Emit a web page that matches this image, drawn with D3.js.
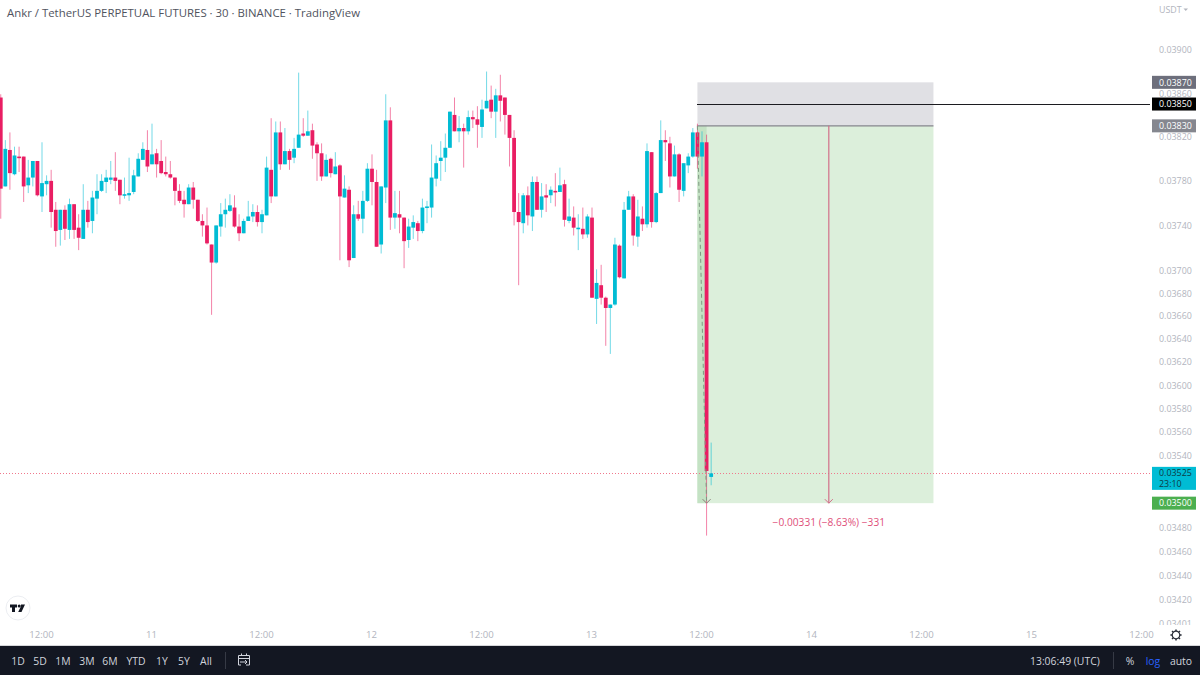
<!DOCTYPE html>
<html>
<head>
<meta charset="utf-8">
<script src="https://cdn.jsdelivr.net/npm/d3@7/dist/d3.min.js"></script>
<style>
html,body{margin:0;padding:0;background:#fff;overflow:hidden}
svg{display:block;font-family:"Open Sans",sans-serif}
</style>
</head>
<body>
<svg id="chart" width="1200" height="675"></svg>
<script>
// ANKRUSDT perpetual, 30 minute candles, prices in units of 0.00001 USDT
const opens = [3856,3775,3808,3786,3802,3802,3776,3783,3798,3766,3777,3780,3754,3736,3754,3736,3759,3738,3728,3754,
3744,3764,3771,3779,3781,3783,3781,3767,3767,3770,3784,3799,3808,3795,3805,3798,3788,3786,3783,3771,
3763,3759,3774,3763,3744,3740,3723,3707,3739,3750,3753,3756,3739,3733,3744,3748,3752,3743,3749,3790,
3766,3824,3795,3807,3801,3810,3823,3821,3826,3813,3805,3784,3800,3786,3794,3765,3772,3711,3750,3746,
3762,3791,3779,3723,3774,3835,3747,3750,3747,3727,3738,3742,3735,3756,3756,3782,3798,3801,3810,3840,
3825,3828,3825,3838,3836,3829,3846,3854,3843,3858,3856,3840,3819,3752,3742,3767,3748,3779,3754,3767,
3767,3771,3770,3777,3744,3747,3737,3737,3732,3747,3675,3687,3676,3667,3670,3722,3693,3754,3766,3730,
3746,3741,3806,3743,3769,3817,3814,3784,3804,3771,3794,3802,3824,3802,3815,3522];
const highs = [3859,3817,3824,3811,3811,3802,3799,3798,3798,3815,3785,3790,3761,3754,3758,3764,3759,3750,3777,3762,
3771,3786,3786,3790,3798,3806,3781,3783,3801,3790,3805,3815,3826,3832,3809,3817,3802,3798,3783,3777,
3771,3777,3779,3763,3750,3756,3723,3740,3760,3764,3768,3767,3750,3746,3762,3759,3758,3754,3802,3837,
3834,3834,3828,3809,3819,3879,3837,3844,3832,3815,3814,3804,3801,3806,3795,3785,3775,3758,3762,3771,
3796,3804,3790,3775,3859,3847,3771,3771,3747,3746,3749,3744,3764,3762,3813,3803,3816,3823,3843,3856,
3839,3832,3844,3844,3848,3854,3880,3867,3864,3877,3856,3840,3826,3769,3769,3775,3784,3784,3778,3777,
3775,3787,3792,3781,3764,3757,3750,3756,3750,3756,3701,3705,3677,3670,3729,3723,3761,3771,3768,3763,
3757,3814,3806,3770,3835,3826,3820,3812,3805,3796,3805,3828,3832,3825,3822,3551];
const lows = [3746,3775,3772,3785,3788,3761,3769,3775,3766,3752,3767,3738,3721,3722,3727,3728,3728,3718,3728,3738,
3733,3750,3770,3769,3777,3771,3759,3764,3762,3768,3784,3799,3788,3795,3783,3786,3784,3782,3758,3760,
3747,3759,3755,3743,3730,3723,3661,3706,3730,3738,3752,3738,3726,3733,3744,3743,3739,3733,3749,3760,
3766,3790,3795,3790,3796,3810,3820,3821,3800,3780,3780,3784,3783,3786,3709,3765,3703,3711,3744,3733,
3761,3758,3721,3715,3760,3736,3737,3733,3702,3720,3728,3726,3733,3742,3747,3775,3780,3788,3810,3825,
3815,3792,3822,3828,3810,3819,3846,3837,3819,3834,3822,3793,3740,3687,3733,3740,3735,3754,3747,3752,
3760,3757,3770,3739,3742,3731,3718,3728,3729,3676,3653,3670,3634,3627,3669,3693,3693,3754,3722,3721,
3735,3738,3738,3742,3769,3798,3774,3784,3761,3766,3787,3801,3791,3784,3473,3515];
const closes = [3773,3809,3787,3803,3801,3775,3783,3798,3767,3778,3780,3752,3735,3754,3737,3759,3736,3729,3754,3743,
3765,3771,3780,3783,3783,3780,3767,3768,3769,3785,3800,3809,3793,3804,3795,3787,3786,3783,3771,3762,
3759,3774,3763,3744,3740,3724,3707,3740,3750,3754,3758,3739,3733,3744,3748,3752,3743,3750,3792,3766,
3824,3795,3807,3799,3809,3822,3821,3825,3812,3805,3784,3799,3787,3793,3766,3773,3709,3750,3746,3762,
3791,3779,3721,3775,3835,3747,3751,3747,3726,3739,3743,3735,3756,3757,3783,3796,3801,3810,3843,3825,
3828,3825,3838,3836,3831,3845,3853,3843,3858,3853,3840,3819,3752,3743,3767,3749,3779,3754,3766,3765,
3772,3770,3776,3745,3748,3738,3738,3732,3748,3676,3689,3676,3667,3670,3723,3694,3754,3766,3731,3748,
3741,3807,3743,3769,3817,3815,3784,3804,3772,3796,3802,3824,3802,3815,3527,3525];

const PIP = 0.00001;
const HALF_HOUR = 30 * 60 * 1000;
const lastCandleOpen = Date.UTC(2022, 1, 13, 13, 0);

// Value axis
const priceTicks = [0.039,0.0386,0.0382,0.0378,0.0374,0.037,0.0368,0.0366,0.0364,0.0362,0.036,0.0358,0.0356,0.0354,0.0348,0.0346,0.0344,0.0342,0.03401];

// Time axis: one label every twelve hours
const timeTickLabels = ['12:00','11','12:00','12','12:00','13','12:00','14','12:00','15','12:00'];
const timeTicks = timeTickLabels.map((_, i) => Date.UTC(2022, 1, 10, 12 + 12 * i));

// Position tool levels
const entryPrice = 0.0383, stopPrice = 0.0387, targetPrice = 0.035, alertPrice = 0.0385, lastPrice = 0.03525;
const toolStart = Date.UTC(2022, 1, 13, 11, 30), toolEnd = Date.UTC(2022, 1, 14, 13, 15);
const tradeExit = Date.UTC(2022, 1, 13, 12, 30), measureTime = Date.UTC(2022, 1, 14, 1, 50);
const measureLabel = '\u22120.00331 (\u22128.63%) \u2212331';

const rangeButtons = ['1D','5D','1M','3M','6M','YTD','1Y','5Y','All'];
const rangeButtonX = [18,40,63,87,110,136,162,184,206];

const W = 1200, H = 675, plotRight = 1150, plotBottom = 624, barTop = 646;
const UP = '#00bcd4', DOWN = '#e91e63', AXIS = '#b2b5be';

const x = d3.scaleUtc().domain([timeTicks[0], timeTicks[timeTicks.length - 1]]).range([42, 1142]);
const y = d3.scaleLog().domain([0.0342, 0.039]).range([600, 50]);

const svg = d3.select('#chart');
const defs = svg.append('defs');
defs.append('clipPath').attr('id', 'plot').append('rect')
  .attr('width', plotRight).attr('height', plotBottom);
defs.append('clipPath').attr('id', 'scale').append('rect')
  .attr('x', plotRight).attr('width', W - plotRight).attr('height', plotBottom + 1);

const candles = opens.map((o, i) => ({
  t: lastCandleOpen - (opens.length - 1 - i) * HALF_HOUR,
  o: o * PIP, h: highs[i] * PIP, l: lows[i] * PIP, c: closes[i] * PIP
}));

const plot = svg.append('g').attr('clip-path', 'url(#plot)');

// Short position: stop zone, profit zone and the trade's path through it
plot.append('rect').attr('x', x(toolStart)).attr('width', x(toolEnd) - x(toolStart))
  .attr('y', y(stopPrice)).attr('height', y(entryPrice) - y(stopPrice)).attr('fill', '#e0e0e4');
plot.append('rect').attr('x', x(toolStart)).attr('width', x(toolEnd) - x(toolStart))
  .attr('y', y(entryPrice)).attr('height', y(targetPrice) - y(entryPrice)).attr('fill', '#dcefdb');
plot.append('rect').attr('x', x(toolStart)).attr('width', x(tradeExit) - x(toolStart))
  .attr('y', y(entryPrice)).attr('height', y(targetPrice) - y(entryPrice)).attr('fill', '#c4e2c4');
plot.append('line').attr('x1', x(toolStart)).attr('x2', x(toolEnd))
  .attr('y1', y(entryPrice)).attr('y2', y(entryPrice)).attr('stroke', '#85858c').attr('stroke-width', 1.2);

// Last price line
plot.append('line').attr('x1', 0).attr('x2', plotRight)
  .attr('y1', y(lastPrice)).attr('y2', y(lastPrice))
  .attr('stroke', '#f0788c').attr('stroke-width', 1).attr('stroke-dasharray', '1 2')
  .attr('shape-rendering', 'crispEdges');

// Candles
const candle = plot.append('g').selectAll('g').data(candles).join('g')
  .attr('fill', d => d.c >= d.o ? UP : DOWN)
  .attr('stroke', d => d.c >= d.o ? UP : DOWN);
candle.append('line')
  .attr('x1', d => x(d.t)).attr('x2', d => x(d.t))
  .attr('y1', d => y(d.h)).attr('y2', d => y(d.l))
  .attr('stroke-width', 1).attr('stroke-opacity', 0.55);
candle.append('rect')
  .attr('x', d => x(d.t) - 1.9).attr('width', 3.8)
  .attr('y', d => Math.min(y(d.o), y(d.c)))
  .attr('height', d => Math.max(1.6, Math.abs(y(d.o) - y(d.c))))
  .attr('stroke', 'none');

// Trade path, dashed, ending in an arrow on the target level
plot.append('line').attr('x1', x(toolStart)).attr('x2', x(tradeExit))
  .attr('y1', y(entryPrice)).attr('y2', y(targetPrice))
  .attr('stroke', '#7f9a82').attr('stroke-width', 1).attr('stroke-dasharray', '4 3');
function arrowHead(px, py, color) {
  plot.append('path').attr('fill', 'none').attr('stroke', color).attr('stroke-width', 1)
    .attr('d', d3.line()([[px - 4, py - 4], [px, py], [px + 4, py - 4]]));
}
arrowHead(x(tradeExit), y(targetPrice), '#8a7f78');

// Measured move arrow
const measureX = x(measureTime);
plot.append('line').attr('x1', measureX).attr('x2', measureX)
  .attr('y1', y(entryPrice)).attr('y2', y(targetPrice)).attr('stroke', '#d2708a').attr('stroke-width', 1.2);
arrowHead(measureX, y(targetPrice), '#d2708a');
plot.append('text').attr('x', measureX).attr('y', y(targetPrice) + 23)
  .attr('text-anchor', 'middle').attr('font-size', 10.2).attr('fill', '#e0507a').text(measureLabel);

// Alert level running out to the value scale
plot.append('line').attr('x1', x(toolStart)).attr('x2', plotRight)
  .attr('y1', y(alertPrice)).attr('y2', y(alertPrice)).attr('stroke', '#1c1c20').attr('stroke-width', 1)
  .attr('shape-rendering', 'crispEdges');

// Title
svg.append('text').attr('x', 7).attr('y', 16.5).attr('font-size', 11.4).attr('fill', '#50535e')
  .text('Ankr / TetherUS PERPETUAL FUTURES \u00b7 30 \u00b7 BINANCE \u00b7 TradingView');

// Value axis
const yAxis = svg.append('g').attr('clip-path', 'url(#scale)')
  .append('g').attr('transform', `translate(${plotRight},0)`)
  .call(d3.axisRight(y).tickValues(priceTicks).tickSize(0).tickPadding(9).tickFormat(d3.format('.5f')));
yAxis.select('.domain').remove();
yAxis.selectAll('text').attr('font-family', '"Open Sans",sans-serif').attr('font-size', 8.9).attr('fill', AXIS);

svg.append('text').attr('x', 1159).attr('y', 12.5).attr('font-size', 8.9).attr('fill', AXIS).text('USDT');
svg.append('path').attr('d', 'M1183.5 8.5l4.5 0l-2.25 2.5z').attr('fill', AXIS);

// Price tags on the value scale
function priceTag(price, fill, text, color) {
  const py = y(price);
  svg.append('rect').attr('x', 1152).attr('y', py - 6.5).attr('width', 44).attr('height', 13)
    .attr('fill', fill);
  svg.append('text').attr('x', 1159).attr('y', py + 3.2)
    .attr('font-size', 8.9).attr('fill', color).text(text);
}
const fmt = d3.format('.5f');
priceTag(stopPrice, '#6d6f7c', fmt(stopPrice), '#fff');
priceTag(alertPrice, '#000', fmt(alertPrice), '#fff');
priceTag(entryPrice, '#85878f', fmt(entryPrice), '#fff');
priceTag(targetPrice, '#4caf50', fmt(targetPrice), '#fff');

const lastY = y(lastPrice);
svg.append('rect').attr('x', 1152).attr('y', lastY - 6.5).attr('width', 44).attr('height', 23).attr('fill', '#00bcd4');
svg.append('text').attr('x', 1159).attr('y', lastY + 2.8).attr('font-size', 8.9).attr('fill', '#0d3b44').text(fmt(lastPrice));
svg.append('text').attr('x', 1159).attr('y', lastY + 13.4).attr('font-size', 8.9).attr('fill', '#0d3b44').text('23:10');

// Time axis
const xAxis = svg.append('g').attr('transform', 'translate(-1,624)')
  .call(d3.axisBottom(x).tickValues(timeTicks).tickSize(0).tickPadding(7)
    .tickFormat((d, i) => timeTickLabels[i]));
xAxis.select('.domain').remove();
xAxis.selectAll('text').attr('font-family', '"Open Sans",sans-serif').attr('font-size', 9.6).attr('fill', AXIS);

// Settings gear
const gear = svg.append('g').attr('transform', 'translate(1176,635)')
  .attr('fill', 'none').attr('stroke', '#2a2e39').attr('stroke-width', 1.2);
gear.append('circle').attr('r', 3.8);
d3.range(8).forEach(k => {
  const a = k * Math.PI / 4;
  gear.append('line').attr('x1', 3.8 * Math.cos(a)).attr('y1', 3.8 * Math.sin(a))
    .attr('x2', 5.6 * Math.cos(a)).attr('y2', 5.6 * Math.sin(a)).attr('stroke-width', 1.5);
});

// TradingView badge
const badge = svg.append('g').attr('transform', 'translate(18,608)');
badge.append('circle').attr('r', 12).attr('fill', '#fff').attr('stroke', '#eceef2');
badge.append('path').attr('fill', '#131722')
  .attr('d', 'M-8 -3.5H-1V-0.5H-3V4H-6V-0.5H-8Z M3 -3.5H7L3.5 4H0.2L2.5 -0.8Z');
badge.append('circle').attr('cx', 1.2).attr('cy', -2).attr('r', 1.5).attr('fill', '#131722');

// Bottom toolbar
svg.append('rect').attr('y', barTop - 1).attr('width', W).attr('height', 1).attr('fill', '#d6d7da');
svg.append('rect').attr('y', barTop).attr('width', W).attr('height', H - barTop).attr('fill', '#131722');
const barText = svg.append('g').attr('font-size', 10.4).attr('fill', '#d1d4dc');
barText.selectAll('text.range').data(rangeButtons).join('text')
  .attr('class', 'range').attr('x', (d, i) => rangeButtonX[i]).attr('y', 664.5)
  .attr('text-anchor', 'middle').text(d => d);
barText.append('text').attr('x', 1030).attr('y', 664.5).text('13:06:49 (UTC)');
barText.append('text').attr('x', 1130).attr('y', 664.5).attr('text-anchor', 'middle').text('%');
barText.append('text').attr('x', 1153).attr('y', 664.5).attr('text-anchor', 'middle').attr('fill', '#2962ff').text('log');
barText.append('text').attr('x', 1181).attr('y', 664.5).attr('text-anchor', 'middle').text('auto');
[225.5, 1113.5].forEach(sx => svg.append('line').attr('x1', sx).attr('x2', sx).attr('y1', 652).attr('y2', 669).attr('stroke', '#363a45'));

// Compare-dates button
const cal = svg.append('g').attr('fill', 'none').attr('stroke', '#d1d4dc').attr('stroke-width', 1);
cal.append('path').attr('d', 'M241 665H238.5V655.5H249.5V665H246');
cal.append('path').attr('d', 'M238.5 658.5H249.5M241.5 653.5V656M246.5 653.5V656');
cal.append('path').attr('d', 'M240 662H247M245 660L247 662L245 664');
</script>
</body>
</html>
